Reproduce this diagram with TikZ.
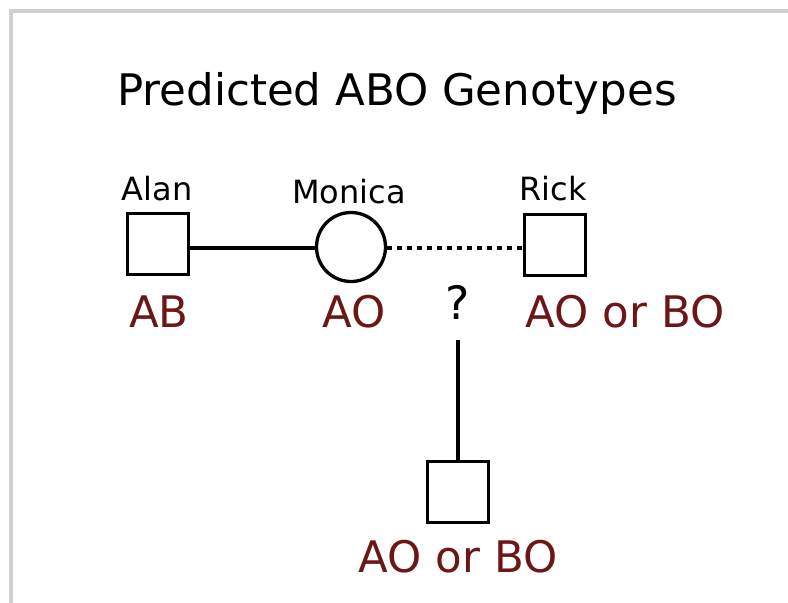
\documentclass[tikz,border=0pt]{standalone}
\usepackage{fontspec}
\setmainfont{DejaVu Sans}
\usetikzlibrary{positioning}
\definecolor{genored}{RGB}{108,22,22}
\definecolor{framegray}{RGB}{208,208,208}

\begin{document}
\begin{tikzpicture}[x=1pt,y=-1pt,
  male/.style={draw,line width=3.3pt,minimum size=61pt,inner sep=0pt},
  female/.style={draw,circle,line width=3.3pt,minimum size=69pt,inner sep=0pt},
  personname/.style={anchor=base,font=\fontsize{32}{38}\selectfont},
  geno/.style={anchor=base,text=genored,font=\fontsize{43.5}{50}\selectfont},
  link/.style={line width=3.3pt}]
  \useasboundingbox (0,0) rectangle (788,603);
  % frame
  \draw[framegray,line width=4pt] (10.5,603) -- (10.5,10.5) -- (788,10.5);
  \node[anchor=base,font=\fontsize{43.5}{50}\selectfont] (title) at (397,105) {Predicted ABO Genotypes};
  % parents
  \node[male] (alan) at (158,244) {};
  \node[female] (monica) at (351,247) {};
  \node[male] (rick) at (555,245) {};
  \node[personname] (alanname) at (157,200) {Alan};
  \node[personname] (monicaname) at (349,203) {Monica};
  \node[personname] (rickname) at (553,200) {Rick};
  \node[geno] (alangeno) at (159,327) {AB};
  \node[geno] (monicageno) at (354,327) {AO};
  \node[geno] (rickgeno) at (625,327) {AO or BO};
  \node[anchor=base,font=\fontsize{46}{52}\selectfont] (ask) at (458,319) {?};
  % child
  \node[male] (child) at (458,492) {};
  \node[geno] (childgeno) at (458,572) {AO or BO};
  \coordinate (drop) at (458,340);
  % connectors
  \draw[link] (alan.east |- 0,248) -- (monica.west |- 0,248);
  \draw[link,dash pattern=on 5pt off 5pt] (monica.east |- 0,248) -- (rick.west |- 0,248);
  \draw[link] (drop) -- (child.north);
\end{tikzpicture}
\end{document}
